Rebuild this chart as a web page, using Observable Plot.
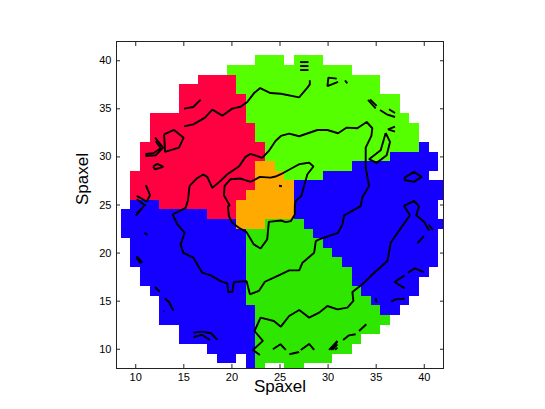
<!DOCTYPE html>
<html><head><meta charset="utf-8">
<style>html,body{margin:0;padding:0;background:#fff}svg{display:block}</style>
<script src="https://cdn.jsdelivr.net/npm/d3@7"></script>
<script src="https://cdn.jsdelivr.net/npm/@observablehq/plot@0.6"></script>
</head><body><script>
// Each run: [row, first column, last column] of spaxels in a bin
const redRuns = [[38,17,20],[37,15,20],[36,15,21],[35,15,21],[34,12,21],[33,12,22],[32,12,22],[31,11,23],[30,11,23],[29,11,22],[28,10,22],[27,10,22],[26,10,21],[25,13,20],[24,18,20]];
const limeRuns = [[40,23,25],[40,27,29],[39,20,32],[38,21,35],[37,21,35],[36,22,37],[35,22,37],[34,22,38],[33,23,39],[32,23,39],[31,24,39],[30,24,36],[29,25,32],[28,26,29]];
const orangeRuns = [[29,23,24],[28,23,25],[27,23,26],[26,22,26],[25,21,26],[24,21,26],[23,21,23]];
const blueRuns = [[31,40,40],[30,37,41],[29,33,41],[28,30,40],[27,27,42],[26,27,42],[25,27,41],[24,27,41],[23,28,42],[22,29,41],[21,30,41],[20,31,41],[19,32,41],[18,33,40],[17,33,39],[16,34,39],[15,35,38],[14,36,37],
 [25,10,12],[24,9,17],[23,9,20],[22,9,21],[21,10,21],[20,10,21],[19,10,21],[18,11,21],[17,11,21],[16,12,21],[15,13,21],[14,13,22],[13,13,22],[12,15,22],[11,15,22],[10,18,22],[9,19,20],[9,22,22],[8,22,22]];
const greenRuns = [[23,24,27],[22,22,28],[21,22,29],[20,22,30],[19,22,31],[18,22,32],[17,22,32],[16,22,33],[15,22,34],[14,23,35],[13,23,36],[12,23,35],[11,23,33],[10,23,32],[9,23,30],[8,23,23],[8,26,27]];

const bins = [
  {runs: redRuns, color: "#ff0040"},
  {runs: limeRuns, color: "#55ff00"},
  {runs: orangeRuns, color: "#ffaa00"},
  {runs: blueRuns, color: "#1500ff"},
  {runs: greenRuns, color: "#2fe600"}
];

const tickValues = [10, 15, 20, 25, 30, 35, 40];
const axisLabel = "Spaxel";

// Contour lines, read in spaxel coordinates
const outerLoop = [[15.6,26.99],[16.33,27.75],[17.02,28.17],[17.44,27.92],[17.96,26.78],[18.82,27.51],[19.52,28.2],[20.73,29],[21.42,30],[21.94,30.31],[23.15,29.9],[23.84,30.62],[24.53,31.66],[25.09,32.18],[25.95,32.42],[26.99,32.15],[28.89,32.8],[29.93,32.8],[31.04,32.46],[31.94,33.05],[33.04,32.98],[34.01,33.63],[34.6,32.98],[34.5,32.18],[33.91,30.97],[33.91,28.89],[34.26,26.99],[33.56,25.78],[33.39,24.88],[31.66,23.91],[31.49,22.98],[31.04,22.11],[29.07,21.42],[28.72,21.25],[28.55,20.03],[27.34,19],[27,18.2],[25.95,18.2],[25.09,17.79],[24.36,17.44],[23.43,17.02],[22.8,16.06],[21.87,15.71],[21.52,17.09],[20.21,16.99],[20.03,15.95],[19.62,15.95],[19.52,16.85],[18.82,17.09],[17.79,17.68],[16.92,17.96],[15.99,19.52],[14.95,20.03],[14.67,20.9],[15.09,22.11],[14.33,22.98],[13.84,24.01],[15.19,24.7],[15.43,25.5],[15.6,26.99]];
const innerLoop = [[19.79,24.91],[19.17,26.02],[19.24,26.99],[19.86,27.68],[20.9,27.75],[21.94,27.4],[22.91,27.92],[24.01,27.85],[24.53,27.96],[25.09,28.2],[26.99,29.24],[28.03,29.41],[28.48,29],[27.85,28.2],[27.5,27],[27.23,25.95],[26.64,25.43],[26.54,24.88],[26.54,24.01],[26.12,23.32],[25.6,23.22],[25.09,23.39],[23.84,23.25],[23.67,21.42],[22.98,20.48],[22.28,20.9],[21.52,22.18],[20.73,22.63],[20.03,23.15],[19.69,23.84],[19.58,24.88],[19.79,24.91]];
const upperLine = [[15.02,33.18],[15.99,33.39],[17.2,34.08],[17.96,34.91],[19,34.29],[20.03,35.02],[20.9,35.22],[21.6,35.71],[22.28,36.61],[22.94,37.16],[24.01,36.64],[25.09,36.57],[26.99,36.19],[27.85,37.2],[28.1,37.54],[28.1,37.96]];
const lowerLine = [[39.45,24.88],[38.93,25.43],[37.89,24.91],[38.51,23.94],[36.5,21.07],[36.33,20.03],[36.16,19.17],[34.43,17.61],[33.56,16.75],[32.53,15.95],[32.63,15.02],[32.01,14.33],[30.97,14.15],[29.93,14.5],[29.07,13.81],[28.03,13.29],[27,14.08],[25.95,13.46],[25.09,12.35],[24.36,12.94],[22.98,13.29],[22.35,11.9],[23.22,10.87],[22.18,9.93],[22.91,9.41]];
const rightLeg = [[39.45,24.88],[39.17,23.94],[39.97,23.25],[40.5,22.34]];
const smallLines = [
 [[15.02,35.02],[15.99,35.19],[16.75,35.95]],
 [[37.96,27.85],[38.93,28.44],[39.72,27.92],[38.93,27.4],[37.96,27.6],[37.96,27.85]],
 [[35.99,32.49],[36.44,31.56],[36.09,30.17],[35.05,29.38],[34.26,29.76],[35.47,30.69],[35.99,32.49]],
 [[27.09,39.86],[27.96,39.86]],[[27.09,39.45],[27.96,39.45]],[[27.09,39.03],[27.96,39.03]],
 [[30.9,38.14],[30.03,38.24],[29.93,37.37],[31.04,37.8]],
 [[31.76,37.95],[32,37.65]],
 [[34.15,35.92],[34.95,35.05]],[[34.36,35.99],[35.05,35.3]],
 [[35.4,34.88],[36.09,34.43],[36.96,34.15]],[[36.33,34.95],[36.96,34.57]],
 [[36.96,33.15],[36.23,32.87],[36.96,32.63]],
 [[12.94,32.35],[13.98,32.8],[14.98,32],[14.5,30.97],[13.04,30.52],[13,31.5],[12.94,32.35]],
 [[12.01,32],[12.84,30.97],[12.08,30.17],[11,30.1]],
 [[12.08,31.66],[12.6,30.9],[11.83,30.38],[11,30.31]],
 [[11.8,29],[12.25,29.27],[12.87,28.96],[12,28.72],[11.8,29]],
 [[11.04,27.06],[11.49,26.02],[11.14,25.36],[10.1,25.95]],
 [[10.1,25.6],[11.04,24.91]],[[10.1,24.1],[10.87,24.88]],[[10,23.9],[10.6,24.6]],
 [[10.93,22.11],[11.21,21.87]],
 [[10.07,19.69],[10.69,19]],[[10.07,19.52],[10.52,18.93]],
 [[12,16.47],[12.49,15.99]],
 [[13.01,15.29],[13.46,14.91],[13.91,14.01]],[[12.9,13.98],[13,13.98]],
 [[15.99,11.73],[16.92,11.83],[17.85,11.66],[18.48,10.97]],[[15.99,11.28],[16.92,11.49],[17.72,10.97]],
 [[24.26,10],[25.05,10.52],[25.6,9.93]],[[25.97,9.48],[26.99,9.72]],[[27.16,9.93],[28.03,10.55],[28.55,9.93]],
 [[30.1,9.93],[30.97,10.87]],[[30.28,9.93],[30.97,10.8]],[[30.45,9.93],[30.97,10.52]],[[30.73,9.93],[30.97,10.17]],
 [[31.56,10.97],[32.18,11.45],[32.87,11.56]],[[33.22,11.9],[33.98,12.6]],
 [[34.95,15.29],[35.05,14.84]],[[36.57,14.95],[37.02,15.19],[37.96,15.26]],
 [[37.96,16.33],[36.92,16.99],[37.96,17.68]],[[38.3,17.96],[39,18.41],[39.97,18.03]],
 [[40.48,22.94],[40.9,22.42]],[[39.97,21.76],[39.27,21]],
 [[24.9,27],[25.2,26.95]]
];

const contours = [outerLoop, innerLoop, upperLine, lowerLine, rightLeg, ...smallLines];
const contourPoints = contours.flatMap((c, id) => c.map(([x, y]) => ({x, y, id})));

const chart = Plot.plot({
  width: 545, height: 409,
  marginLeft: 116, marginRight: 102, marginTop: 41, marginBottom: 41,
  x: {domain: [8, 42]},
  y: {domain: [8, 42]},
  style: {background: "#fff", fontFamily: "'Liberation Sans', Arial, sans-serif"},
  marks: [
    ...bins.map(b => Plot.rect(b.runs, {
      x1: d => d[1] - 0.5, x2: d => d[2] + 0.5,
      y1: d => d[0] - 0.5, y2: d => d[0] + 0.5,
      fill: b.color, clip: true, shapeRendering: "crispEdges", inset: 0
    })),
    Plot.line(contourPoints, {x: "x", y: "y", z: "id", stroke: "#000", strokeWidth: 1.9, strokeLinejoin: "miter", strokeLinecap: "butt", curve: "linear", clip: true}),
    Plot.frame({stroke: "#222", strokeWidth: 1}),
    Plot.axisX({ticks: tickValues, tickSize: -4, tickPadding: 9, anchor: "bottom", label: null, fontSize: 11, color: "#000", stroke: "#222", tickFormat: d => d}),
    Plot.axisX({ticks: tickValues, tickSize: -4, anchor: "top", label: null, tickFormat: () => "", stroke: "#222"}),
    Plot.axisY({ticks: tickValues, tickSize: -4, tickPadding: 9, anchor: "left", label: null, fontSize: 11, color: "#000", stroke: "#222", tickFormat: d => d}),
    Plot.axisY({ticks: tickValues, tickSize: -4, anchor: "right", label: null, tickFormat: () => "", stroke: "#222"}),
    Plot.text([axisLabel], {frameAnchor: "bottom", dy: 23, fontSize: 17, fill: "#000"}),
    Plot.text([axisLabel], {frameAnchor: "left", dx: -34, rotate: -90, fontSize: 17, fill: "#000"})
  ]
});
document.body.appendChild(chart);
</script></body></html>
